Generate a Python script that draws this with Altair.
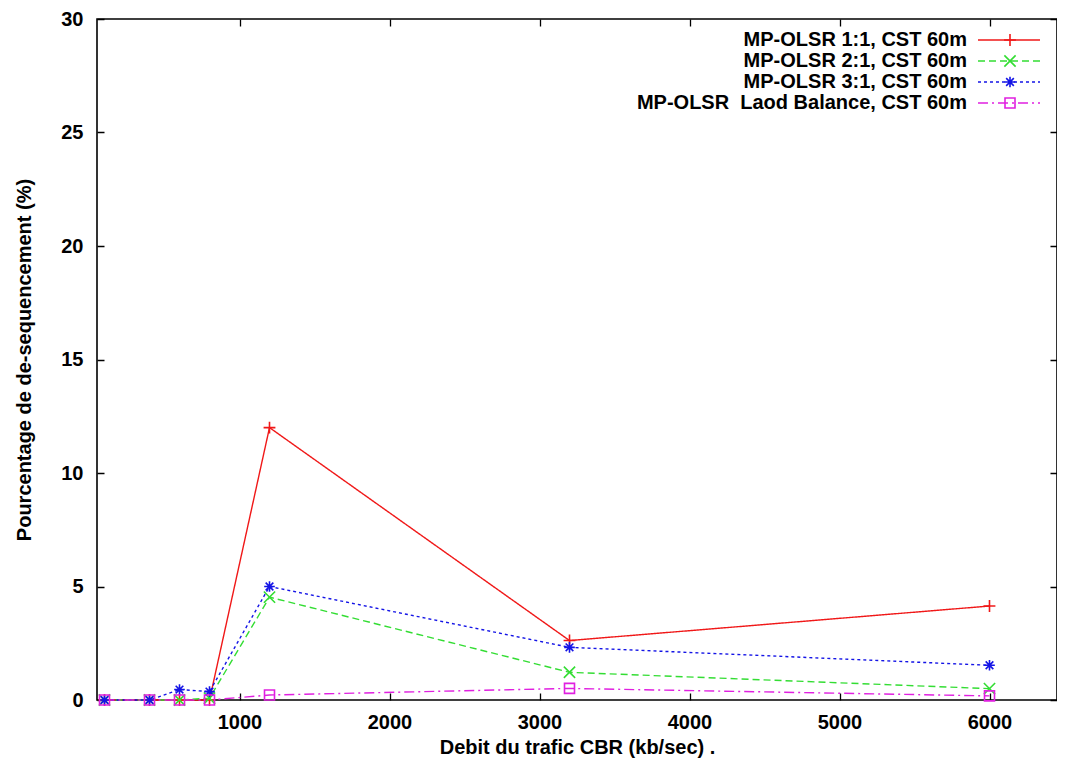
import altair as alt
import pandas as pd

# ---- data ----
names = [
    "MP-OLSR 1:1, CST 60m",
    "MP-OLSR 2:1, CST 60m",
    "MP-OLSR 3:1, CST 60m",
    "MP-OLSR\u00a0 Laod Balance, CST 60m",
]
x_vals = [100, 400, 600, 800, 1200, 3200, 6000]
s_11 = [0, 0, 0, 0, 12.0, 2.62, 4.14]
s_21 = [0, 0, 0, 0.08, 4.53, 1.22, 0.50]
s_31 = [0, 0, 0.46, 0.37, 5.0, 2.32, 1.53]
s_lb = [0, 0, 0, 0, 0.22, 0.51, 0.18]

x_ticks = [1000, 2000, 3000, 4000, 5000, 6000]
y_ticks = [0, 5, 10, 15, 20, 25, 30]

colors = ["#f01818", "#33dd33", "#1414e6", "#e020e0"]
dashes = [[1, 0], [7, 4], [3, 3], [10, 4, 2, 4]]
shapes = [
    "M-1,0L1,0M0,-1L0,1",
    "M-1,-1L1,1M-1,1L1,-1",
    "M-1,0L1,0M0,-1L0,1M-0.72,-0.72L0.72,0.72M-0.72,0.72L0.72,-0.72",
    "square",
]
sizes = [140, 100, 170, 120]

W, H = 960, 681
FONT = "Liberation Sans"

rows = []
for name, ys in zip(names, [s_11, s_21, s_31, s_lb]):
    for xv, yv in zip(x_vals, ys):
        rows.append({"series": name, "x": xv, "y": yv})
df = pd.DataFrame(rows)
leg = pd.DataFrame({"series": names, "row": list(range(len(names)))})

color = alt.Color("series:N", scale=alt.Scale(domain=names, range=colors), legend=None)
dash = alt.StrokeDash("series:N", scale=alt.Scale(domain=names, range=dashes), legend=None)
shape = alt.Shape("series:N", scale=alt.Scale(domain=names, range=shapes), legend=None)
size = alt.Size("series:N", scale=alt.Scale(domain=names, range=sizes), legend=None)
order = alt.Order("x:Q")

xenc = alt.X(
    "x:Q",
    scale=alt.Scale(domain=[50, 6450], nice=False, zero=False),
    axis=alt.Axis(
        values=x_ticks, format="d", title="Debit du trafic CBR (kb/sec) .",
        grid=True, gridColor="black", gridWidth=1.3, gridOpacity=1,
        gridDash=[7, H - 14, 7, 3000], ticks=False, domain=False,
        labelFontSize=20, labelFont=FONT, labelFontWeight="bold", labelColor="black",
        labelPadding=12, titleFontSize=20, titleFont=FONT, titleFontWeight="bold",
        titleColor="black", titlePadding=5,
    ),
)
yenc = alt.Y(
    "y:Q",
    scale=alt.Scale(domain=[0, 30], nice=False),
    axis=alt.Axis(
        values=y_ticks, title="Pourcentage de de-sequencement (%)",
        grid=True, gridColor="black", gridWidth=1.3, gridOpacity=1,
        gridDash=[7, W - 14, 7, 3000], ticks=False, domain=False,
        labelFontSize=20, labelFont=FONT, labelFontWeight="bold", labelColor="black",
        labelPadding=14, titleFontSize=20, titleFont=FONT, titleFontWeight="bold",
        titleColor="black", titlePadding=26,
    ),
)

lines = alt.Chart(df).mark_line(strokeWidth=1.4).encode(
    x=xenc, y=yenc, color=color, strokeDash=dash, detail="series:N", order=order
)
points = alt.Chart(df).mark_point(filled=False, strokeWidth=1.6, opacity=1).encode(
    x="x:Q", y="y:Q", color=color, shape=shape, size=size
)
main = alt.layer(lines, points)

ly = alt.Y("row:Q", scale=alt.Scale(domain=[0, 3], range=[21, 84]), axis=None)
leg_rule = alt.Chart(leg).mark_rule(strokeWidth=1.4).encode(
    x=alt.value(881), x2=alt.value(943), y=ly, color=color, strokeDash=dash
)
leg_pt = alt.Chart(leg).mark_point(filled=False, strokeWidth=1.6, opacity=1).encode(
    x=alt.value(913), y=ly, color=color, shape=shape, size=size
)
leg_txt = alt.Chart(leg).mark_text(
    align="right", baseline="middle", fontSize=20, fontWeight="bold", font=FONT, color="black"
).encode(x=alt.value(870), y=ly, text="series:N")
legend = alt.layer(leg_rule, leg_pt, leg_txt)

chart = (
    alt.layer(main, legend)
    .resolve_scale(y="independent")
    .properties(
        width=W, height=H,
        autosize=alt.AutoSizeParams(type="none"),
        padding={"left": 89, "top": 11, "right": 0, "bottom": 59},
        background="white",
    )
    .configure_view(stroke="black", strokeWidth=1.6)
)

chart.save("out.html", embed_options={"renderer": "svg", "actions": False})
